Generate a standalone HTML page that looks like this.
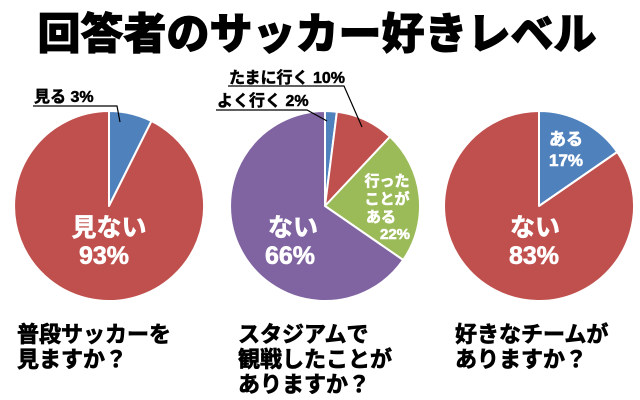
<!DOCTYPE html>
<html><head><meta charset="utf-8"><style>
html,body{margin:0;padding:0;background:#fff;}
svg{display:block;font-family:"Liberation Sans","Noto Sans CJK JP",sans-serif;font-weight:bold;}
</style></head><body>
<svg width="640" height="400" viewBox="0 0 640 400" xmlns="http://www.w3.org/2000/svg">
<text x="317" y="49" font-size="43" text-anchor="middle" fill="#000" stroke="#000" stroke-width="1" font-weight="900">回答者のサッカー好きレベル</text>
<g stroke="#fff" stroke-width="2" stroke-linejoin="round">
<path d="M109,206 L109,111 A95,95 0 0 1 151.5,121 Z" fill="#4f81bd"/>
<path d="M109,206 L151.5,121 A95,95 0 1 1 109,111 Z" fill="#c0504d"/>
<path d="M325,206 L325,111 A95,95 0 0 1 336.9,111.8 Z" fill="#4f81bd"/>
<path d="M325,206 L336.9,111.8 A95,95 0 0 1 390,136.7 Z" fill="#c0504d"/>
<path d="M325,206 L390,136.7 A95,95 0 0 1 403.2,260 Z" fill="#9bbb59"/>
<path d="M325,206 L403.2,260 A95,95 0 1 1 325,111 Z" fill="#8064a2"/>
<path d="M539,206 L539,111 A95,95 0 0 1 617.2,152 Z" fill="#4f81bd"/>
<path d="M539,206 L617.2,152 A95,95 0 1 1 539,111 Z" fill="#c0504d"/>
</g>
<g stroke="#000" stroke-width="1.2" fill="none">
<path d="M33,106 H117 L120,122"/>
<path d="M228,86 H344 L362,127"/>
<path d="M216,110 H307 L327,121"/>
</g>
<g font-size="16" fill="#000" stroke="#000" stroke-width="0.5">
<text x="34" y="102">見る 3%</text>
<text x="229" y="83">たまに行く 10%</text>
<text x="217" y="106">よく行く 2%</text>
</g>
<g fill="#fff" stroke="#fff" stroke-width="0.6" text-anchor="middle">
<text x="109" y="236" font-size="25">見ない</text>
<text x="104" y="264" font-size="25">93%</text>
<text x="293" y="236" font-size="25">ない</text>
<text x="290" y="264" font-size="25">66%</text>
<text x="535" y="236" font-size="25">ない</text>
<text x="534" y="264" font-size="25">83%</text>
<text x="566" y="145" font-size="17">ある</text>
<text x="566" y="166" font-size="17">17%</text>
<text x="387" y="186" font-size="15">行った</text>
<text x="387" y="204" font-size="15">ことが</text>
<text x="381" y="222" font-size="15">ある</text>
<text x="395" y="239" font-size="15">22%</text>
</g>
<g font-size="22" fill="#000" stroke="#000" stroke-width="0.7">
<text x="17" y="342">普段サッカーを</text>
<text x="17" y="367">見ますか？</text>
<text x="238" y="342">スタジアムで</text>
<text x="238" y="367">観戦したことが</text>
<text x="238" y="392">ありますか？</text>
<text x="455" y="342">好きなチームが</text>
<text x="455" y="367">ありますか？</text>
</g>
</svg>
</body></html>
